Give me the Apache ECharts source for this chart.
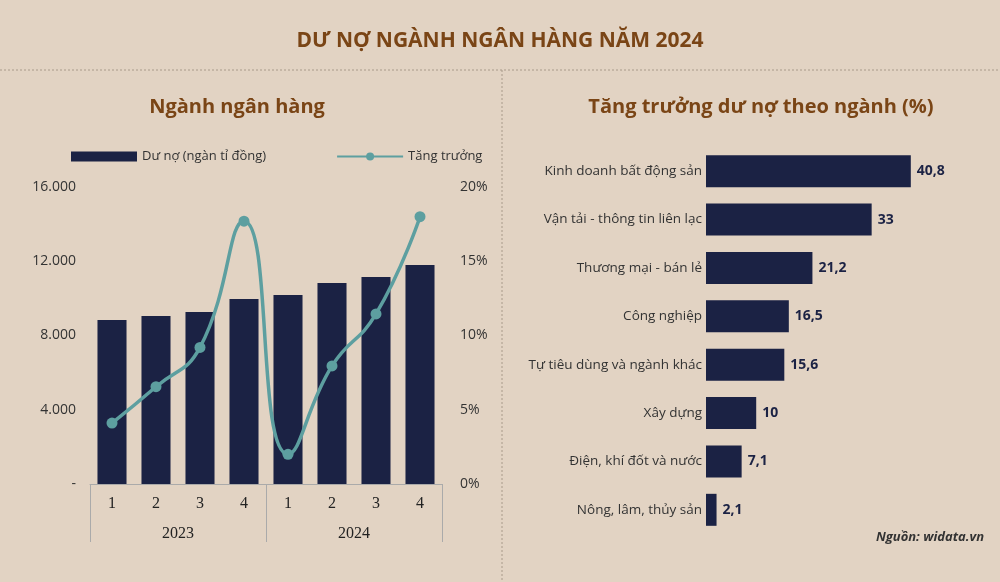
<!DOCTYPE html><html><head><meta charset="utf-8">
<script src="https://cdn.jsdelivr.net/npm/echarts@6/dist/echarts.min.js"></script>
<style>html,body{margin:0;padding:0;background:#e2d3c3}#c{width:1000px;height:582px}</style></head><body><div id="c"></div><script>
const quarters=['1','2','3','4','1','2','3','4'];
const years=['2023','2024'];
const debt=[8835,9050,9270,9970,10180,10830,11150,11800];
const growth=[4.1,6.55,9.2,17.7,2.0,7.95,11.45,18.0];
const sectors=['Kinh doanh bất động sản','Vận tải - thông tin liên lạc','Thương mại - bán lẻ','Công nghiệp','Tự tiêu dùng và ngành khác','Xây dựng','Điện, khí đốt và nước','Nông, lâm, thủy sản'];
const sectorGrowth=[40.8,33,21.2,16.5,15.6,10,7.1,2.1];
const navy='#1b2244',teal='#5d9fa0',brown='#7a4516',txt='#333',F='Open Sans';
const ch=echarts.init(document.getElementById('c'));
ch.setOption({
backgroundColor:'#e2d3c3',
textStyle:{fontFamily:F},
title:[
{text:'DƯ NỢ NGÀNH NGÂN HÀNG NĂM 2024',left:'center',top:26,textStyle:{color:brown,fontSize:21,fontWeight:'bold',fontFamily:F}},
{text:'Ngành ngân hàng',left:232,top:92,textAlign:'center',textStyle:{color:brown,fontSize:20,fontWeight:'bold',fontFamily:F}},
{text:'Tăng trưởng dư nợ theo ngành (%)',left:756,top:92,textAlign:'center',textStyle:{color:brown,fontSize:20,fontWeight:'bold',fontFamily:F}}
],
graphic:[
{type:'line',shape:{x1:0,y1:70,x2:1000,y2:70},style:{stroke:'#a89a8a',lineDash:[2,2],lineWidth:1}},
{type:'line',shape:{x1:502,y1:70,x2:502,y2:582},style:{stroke:'#a89a8a',lineDash:[2,2],lineWidth:1}},
{type:'text',right:16,top:531,style:{text:'Nguồn: widata.vn',fill:'#333',font:'italic bold 13px Open Sans'}}
],
legend:{top:145,left:66,itemGap:70,itemWidth:66,itemHeight:10,textStyle:{color:txt,fontSize:13},data:[{name:'Dư nợ (ngàn tỉ đồng)',icon:'rect'},{name:'Tăng trưởng'}]},
grid:[{left:90,right:558,top:187,bottom:98},{left:706,right:43,top:147,bottom:48}],
xAxis:[
{gridIndex:0,type:'category',data:quarters,axisLine:{lineStyle:{color:'#aaa'}},axisTick:{show:false},axisLabel:{color:'#222',fontFamily:'Liberation Serif',fontSize:16,margin:12}},
{gridIndex:0,type:'category',data:years,position:'bottom',axisLine:{show:false},axisTick:{show:true,length:58,lineStyle:{color:'#aaa'}},axisLabel:{color:'#222',fontFamily:'Liberation Serif',fontSize:16,margin:42}},
{gridIndex:1,type:'value',min:0,max:50,show:false}
],
yAxis:[
{gridIndex:0,type:'value',min:0,max:16000,interval:4000,splitLine:{show:false},axisLine:{show:false},axisTick:{show:false},axisLabel:{color:txt,fontSize:14,margin:14,formatter:v=>v===0?'-':v.toLocaleString('de-DE')}},
{gridIndex:0,type:'value',min:0,max:20,interval:5,position:'right',splitLine:{show:false},axisLine:{show:false},axisTick:{show:false},axisLabel:{color:txt,fontSize:14,margin:18,formatter:'{value}%'}},
{gridIndex:1,type:'category',data:sectors,inverse:true,axisLine:{show:false},axisTick:{show:false},axisLabel:{color:txt,fontSize:13.5,margin:4}}
],
series:[
{name:'Dư nợ (ngàn tỉ đồng)',type:'bar',xAxisIndex:0,yAxisIndex:0,data:debt,barWidth:'66%',itemStyle:{color:navy}},
{name:'Tăng trưởng',type:'line',xAxisIndex:0,yAxisIndex:1,data:growth,smooth:0.5,symbol:'circle',symbolSize:11,lineStyle:{color:teal,width:3.5},itemStyle:{color:teal}},
{type:'bar',xAxisIndex:2,yAxisIndex:2,data:sectorGrowth,barWidth:32,itemStyle:{color:navy},label:{show:true,position:'right',distance:6,color:navy,fontSize:14,fontWeight:'bold',formatter:p=>String(p.value).replace('.',',')}}
]});
</script></body></html>
